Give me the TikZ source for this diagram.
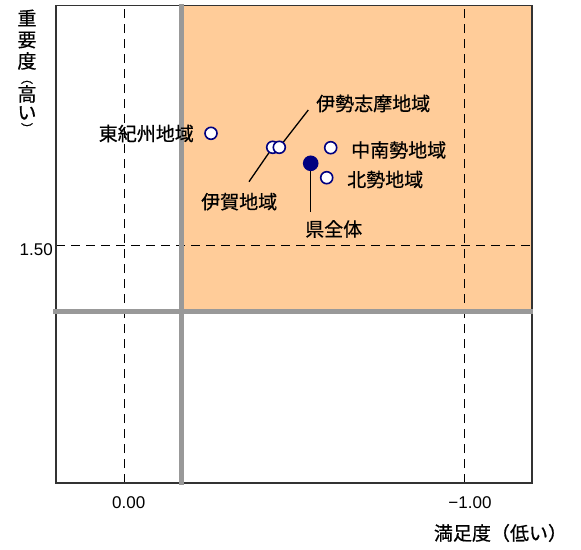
\documentclass[tikz,border=0pt]{standalone}
\usepackage{fontspec}
\setmainfont{Liberation Sans}
\newfontfamily\jpfont[FakeBold=0.6]{Noto Sans CJK JP}
\usepackage{xcolor}
\usepackage{tikz}
\definecolor{peach}{HTML}{FFCC99}
\definecolor{axisgray}{HTML}{999999}
\definecolor{dotblue}{HTML}{000080}

\begin{document}
\begin{tikzpicture}[x=1pt,y=-1pt,
  dot/.style={circle,draw=dotblue,line width=1.6pt,fill=white,minimum size=12pt},
  alldot/.style={dot,fill=dotblue,minimum size=14pt},
  jlabel/.style={font=\jpfont\fontsize{19}{19}\selectfont},
  parlabel/.style={font=\jpfont\fontsize{12}{12}\selectfont,rotate=-90},
  numlabel/.style={font=\fontsize{17}{17}\selectfont},
  gridline/.style={black,line width=0.9pt,dash pattern=on 9pt off 6pt},
  quadline/.style={axisgray,line width=4.5pt}]
\tikzstyle{every node}+=[inner sep=0pt]
\useasboundingbox (0,0) rectangle (581,549);
% quadrant and frame
\fill [peach] (181.7,5.7) rectangle (532,311.7);
\draw [gridline] (124,483) -- (124,5.7);
\draw [gridline] (464,483) -- (464,5.7);
\draw [gridline] (56,245) -- (532,245);
\draw [black!80,line width=1.2pt] (56,5.7) rectangle (532,483);
\draw [quadline] (53,311.7) -- (533,311.7);
\draw [quadline] (181.7,4) -- (181.7,485);
% leader lines
\coordinate (ise-tip) at (308.3,110);
\coordinate (iga-tip) at (249,181.7);
\coordinate (ken-tip) at (310.7,212);
\coordinate (iga-dot) at (272.7,147.3);
\coordinate (ise-dot) at (279.3,147.3);
\coordinate (ken-dot) at (310.7,163.3);
\draw [black,line width=1.3pt] (ise-tip) -- (ise-dot);
\draw [black,line width=1.3pt] (iga-tip) -- (iga-dot);
\draw [black,line width=1.3pt] (ken-tip) -- (ken-dot);
% points
\node [dot] (higashi) at (211,133.3) {};
\node [dot] (iga) at (iga-dot) {};
\node [dot] (ise) at (ise-dot) {};
\node [alldot] (ken) at (ken-dot) {};
\node [dot] (chunan) at (330.7,147.7) {};
\node [dot] (hokusei) at (326.7,177.7) {};
% labels
\node [jlabel,anchor=east] (higashi-lab) at (194,133.5) {東紀州地域};
\node [jlabel,anchor=west] (ise-lab) at (316,103.5) {伊勢志摩地域};
\node [jlabel,anchor=west] (iga-lab) at (201,201.7) {伊賀地域};
\node [jlabel,anchor=west] (chunan-lab) at (351,150) {中南勢地域};
\node [jlabel,anchor=west] (hokusei-lab) at (347,179.5) {北勢地域};
\node [jlabel,anchor=west] (ken-lab) at (305,229) {県全体};
% axes
\node [numlabel,anchor=east] (ytick) at (53,250) {1.50};
\node [numlabel] (xtick0) at (128.7,503) {0.00};
\node [numlabel] (xtick1) at (470,503) {−1.00};
\node [jlabel] (xtitle) at (500.5,533) {満足度（低い）};
% vertical title, one glyph per row
\foreach \ch/\yy [count=\i] in {重/18,要/40,度/61,高/94,い/113}
  \node [jlabel] (ytitle-\i) at (27,\yy) {\ch};
\node [parlabel] (ytitle-open) at (27,78.5) {（};
\node [parlabel] (ytitle-close) at (27,128.5) {）};
\end{tikzpicture}
\end{document}
